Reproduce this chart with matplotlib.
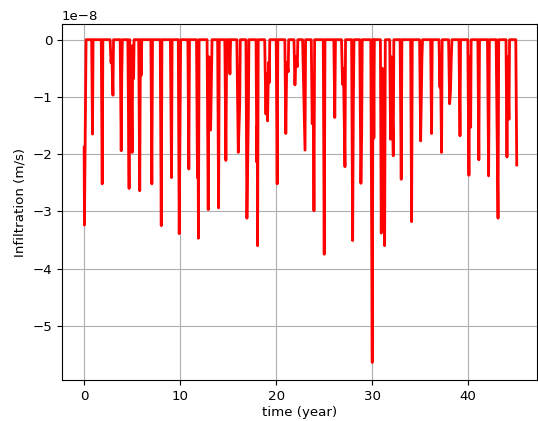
import matplotlib
matplotlib.use("Agg")
import matplotlib.pyplot as plt
import numpy as np

# Vertices of the infiltration time series (time in years, value in 1e-8 m/s)
time_year = [
    0.0, 0.03, 0.2,
    0.78, 0.87, 0.93,
    1.78, 1.88, 1.95,
    2.7, 2.8, 2.88, 3.0, 3.06,
    3.75, 3.86, 3.92, 3.98,
    4.55, 4.68, 4.74, 4.82, 4.88, 5.0, 5.06, 5.15, 5.2,
    5.68, 5.79, 5.86, 5.95, 6.0,
    6.95, 7.05, 7.12,
    7.92, 8.03, 8.1,
    8.98, 9.1, 9.16,
    9.8, 9.9, 9.98, 10.05,
    10.8, 10.9, 10.97,
    11.7, 11.8, 11.85, 11.9, 11.97,
    12.8, 12.92, 13.0, 13.17, 13.27, 13.32,
    13.9, 14.0, 14.07,
    14.65, 14.76, 14.85, 15.1, 15.18, 15.25,
    15.9, 16.05, 16.2, 16.26,
    16.85, 16.95, 17.1, 17.16,
    17.9, 17.98, 18.03, 18.06, 18.13,
    18.8, 18.93, 19.0, 19.1, 19.2, 19.28, 19.33,
    20.0, 20.1, 20.17,
    20.9, 21.0, 21.1, 21.25, 21.3,
    21.85, 21.95, 22.05, 22.2, 22.25,
    22.75, 23.0, 23.06,
    23.65, 23.75, 23.86, 23.93, 24.0,
    24.9, 25.0, 25.08,
    26.0, 26.1, 26.17,
    26.8, 26.91, 27.0, 27.16, 27.22,
    27.85, 27.96, 28.03, 28.1,
    28.7, 28.82, 28.9, 28.96,
    29.85, 30.0, 30.08, 30.12, 30.17, 30.22,
    30.85, 30.94, 31.05, 31.11, 31.29, 31.36,
    31.82, 31.91, 32.0, 32.19, 32.25,
    32.9, 33.02, 33.09,
    34.0, 34.1, 34.17,
    34.93, 35.04, 35.18, 35.24,
    36.08, 36.18, 36.25,
    36.95, 37.05, 37.1, 37.22, 37.28,
    37.95, 38.06, 38.15, 38.23, 38.3,
    39.03, 39.14, 39.2,
    39.95, 40.07, 40.15, 40.25, 40.3,
    41.0, 41.1, 41.17,
    42.0, 42.12, 42.2,
    42.9, 43.1, 43.17,
    43.93, 44.03, 44.1, 44.24, 44.3,
    44.95, 45.05,
]
infiltration_e8 = [
    -1.88, -3.24, 0.0,
    0.0, -1.65, 0.0,
    0.0, -2.52, 0.0,
    0.0, -0.40, -0.25, -0.97, 0.0,
    0.0, -1.94, -0.60, 0.0,
    0.0, -2.60, 0.0, -1.22, -0.30, -1.97, -0.10, -0.68, 0.0,
    0.0, -2.64, 0.0, -0.62, 0.0,
    0.0, -2.52, 0.0,
    0.0, -3.25, 0.0,
    0.0, -2.41, 0.0,
    0.0, -3.39, -1.68, 0.0,
    0.0, -2.26, 0.0,
    0.0, -2.41, -1.00, -3.47, 0.0,
    0.0, -2.97, -0.30, -1.58, -0.60, 0.0,
    0.0, -2.94, 0.0,
    0.0, -2.11, 0.0, 0.0, -0.60, 0.0,
    0.0, -1.97, -1.12, 0.0,
    0.0, -3.12, -1.30, 0.0,
    0.0, -2.14, -1.50, -3.60, 0.0,
    0.0, -1.30, -0.60, -1.42, -0.40, -0.75, 0.0,
    0.0, -2.52, 0.0,
    0.0, -1.64, -0.40, -0.56, 0.0,
    0.0, -0.79, -0.30, -0.47, 0.0,
    0.0, -1.93, 0.0,
    0.0, -1.47, -0.63, -2.99, 0.0,
    0.0, -3.75, 0.0,
    0.0, -1.36, 0.0,
    0.0, -0.78, -0.50, -2.22, 0.0,
    0.0, -3.51, -1.21, 0.0,
    0.0, -2.51, -1.65, 0.0,
    0.0, -5.64, 0.0, 0.0, -1.72, 0.0,
    0.0, -3.38, -0.50, -0.83, -3.60, 0.0,
    0.0, -1.74, -0.30, -2.03, 0.0,
    0.0, -2.44, 0.0,
    0.0, -3.18, 0.0,
    0.0, -1.77, -0.30, 0.0,
    0.0, -1.64, 0.0,
    0.0, -0.83, -0.30, -1.97, 0.0,
    0.0, -1.12, -0.90, -0.34, 0.0,
    0.0, -1.68, 0.0,
    0.0, -2.37, -0.30, -1.53, 0.0,
    0.0, -2.10, 0.0,
    0.0, -2.38, 0.0,
    0.0, -3.12, 0.0,
    0.0, -2.05, -0.30, -1.39, 0.0,
    0.0, -2.19,
]

t = np.array(time_year)
q = np.array(infiltration_e8) * 1e-8

plt.rcParams["font.size"] = 9.6
fig = plt.figure(figsize=(5.38, 4.21), dpi=100)
ax = fig.add_axes([0.115, 0.097, 0.883, 0.846])
ax.plot(t, q, color="red", linewidth=2.0)
ax.set_xlim(-2.32, 47.15)
ax.set_ylim(-5.95e-8, 0.274e-8)
ax.set_xticks([0, 10, 20, 30, 40])
ax.set_yticks(np.array([-5, -4, -3, -2, -1, 0]) * 1e-8)
ax.grid(True)
ax.set_xlabel("time (year)", labelpad=2)
ax.set_ylabel("Infiltration (m/s)")
fig.savefig("out.png", dpi=100)
